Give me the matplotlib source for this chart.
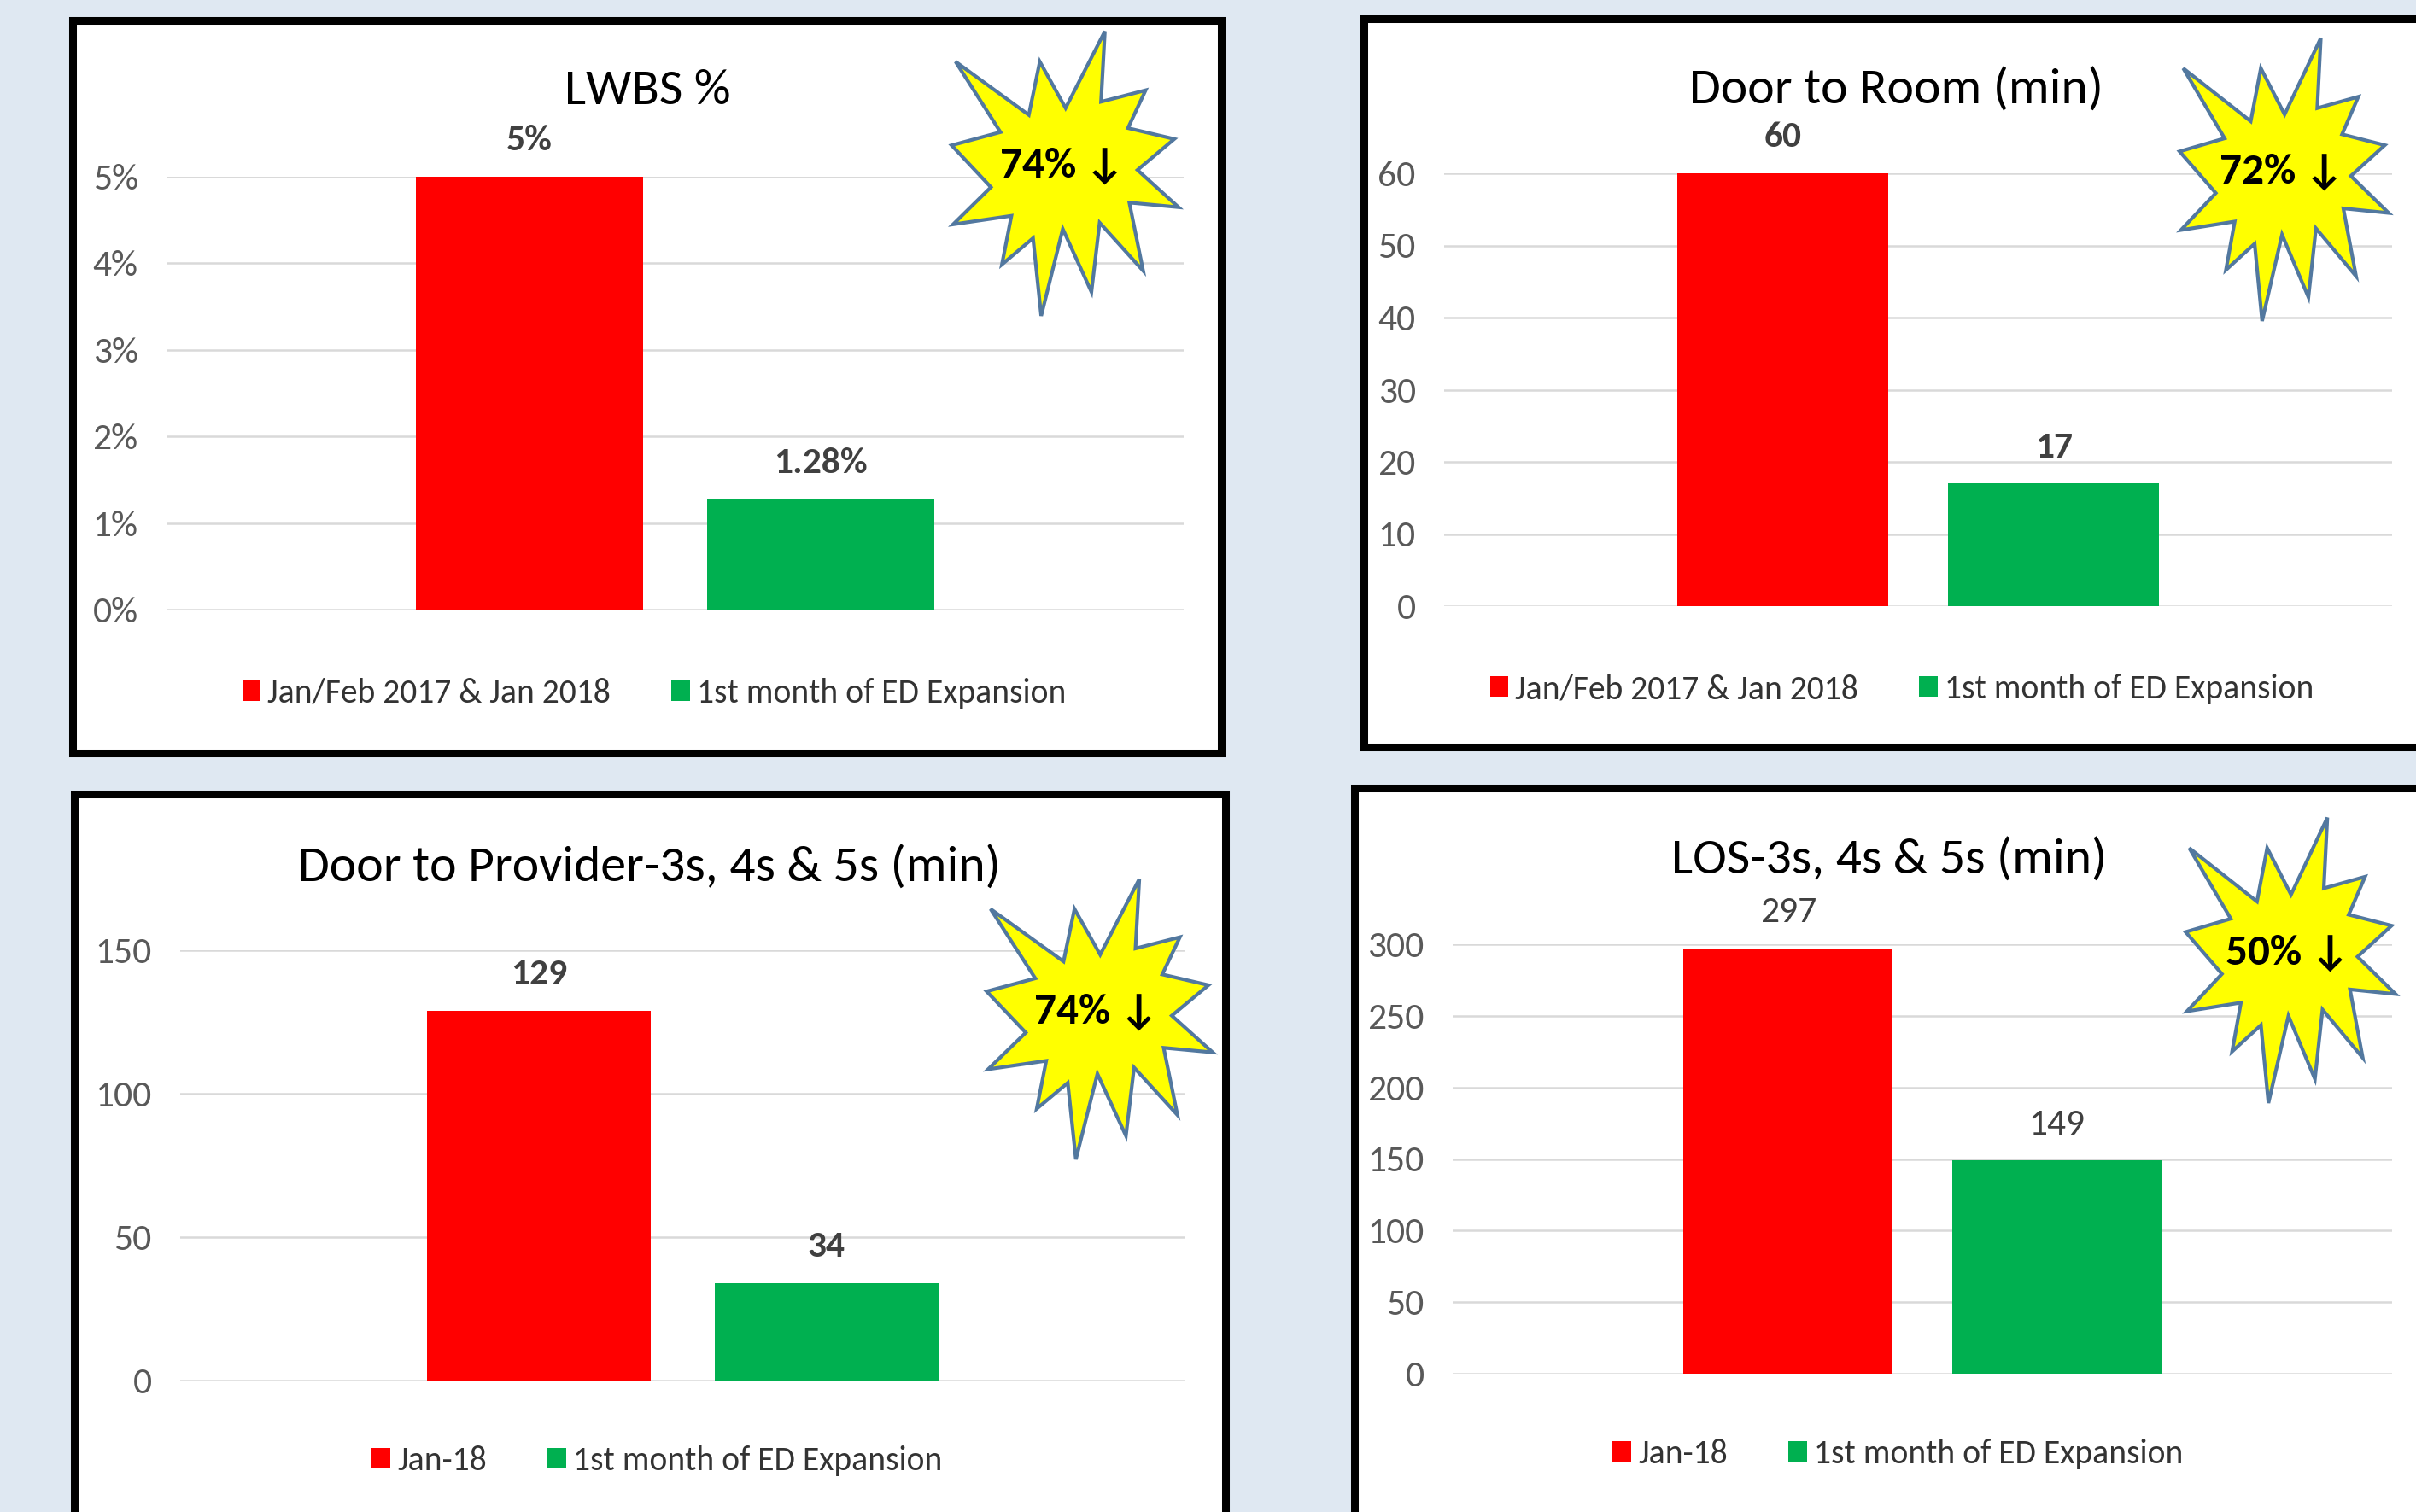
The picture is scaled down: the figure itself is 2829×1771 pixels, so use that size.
import matplotlib
matplotlib.use('Agg')
import matplotlib.pyplot as plt
from matplotlib import font_manager
from matplotlib.patches import Rectangle, Polygon
from matplotlib.ticker import MultipleLocator, FuncFormatter

# Chart data

titles = ['LWBS %', 'Door to Room (min)', 'Door to Provider-3s, 4s & 5s (min)', 'LOS-3s, 4s & 5s (min)']
before_names = ['Jan/Feb 2017 & Jan 2018', 'Jan/Feb 2017 & Jan 2018', 'Jan-18', 'Jan-18']
after_name = '1st month of ED Expansion'
before_vals = [0.05, 60, 129, 297]
after_vals = [0.0128, 17, 34, 149]
y_max = [0.05, 60, 150, 300]
y_step = [0.01, 10, 50, 50]
is_pct = [True, False, False, False]
label_bold = [True, True, True, False]

# Pick a narrow-ish font if one is installed

have = {f.name for f in font_manager.fontManager.ttflist}
cap_ratio = {'Carlito': 0.644, 'Liberation Sans Narrow': 0.716, 'Roboto Condensed': 0.711, 'Lato': 0.72}
base_font = 'Lato'
for cand in ['Carlito', 'Liberation Sans Narrow', 'Roboto Condensed', 'Lato']:
    if cand in have:
        base_font = cand
        break
k = 0.72 / cap_ratio[base_font]
plt.rcParams['font.family'] = [base_font, 'DejaVu Sans']

# Layout in pixels of the 2829x1771 picture (y from top)

W, H = 2829, 1771
panel_box = [(85, 24, 1430, 882), (1597, 22, 2850, 875), (87, 930, 1435, 1790), (1586, 923, 2850, 1790)]
plot_box = [(195, 207, 1386, 714), (1691, 203, 2801, 710), (211, 1113, 1388, 1617), (1701, 1106, 2801, 1609)]
title_xy = [(758, 106), (2220, 106), (760, 1017), (2212, 1008)]
legend_xy = [(766, 812), (2227, 807), (769, 1711), (2222, 1703)]
star_box = [(1113, 35, 267, 335), (2551, 43, 246, 333), (1154, 1028, 266, 330), (2558, 956, 247, 336)]

# Excel "Explosion 1" outline, 21600 units, y down
seal = [(10901, 5905), (8458, 2399), (7417, 6425), (476, 2399), (4732, 7722), (106, 8718),
        (3828, 11880), (243, 14689), (5772, 14041), (4868, 17719), (7819, 15730), (8590, 21600),
        (10637, 15038), (13349, 19791), (14125, 14561), (18248, 18195), (16938, 13044),
        (21600, 13393), (17710, 10579), (21198, 8242), (16806, 7417), (18482, 4560),
        (14257, 5429), (14623, 106)]


def fx(x):
    return x / W


def fy(y):
    return 1 - y / H


fig = plt.figure(figsize=(W / 100, H / 100), dpi=100, facecolor='#DFE8F2')

bar_w = 0.223
bar_off = 0.143

for i in range(4):
    x0, y0, x1, y1 = panel_box[i]
    fig.add_artist(Rectangle((fx(x0), fy(y1)), fx(x1) - fx(x0), fy(y0) - fy(y1),
                             transform=fig.transFigure, facecolor='white',
                             edgecolor='black', lw=6.5, zorder=-1))

    px0, py0, px1, py1 = plot_box[i]
    ax = fig.add_axes([fx(px0), fy(py1), fx(px1) - fx(px0), fy(py0) - fy(py1)])
    ax.set_facecolor('none')

    b1 = ax.bar(-bar_off, before_vals[i], bar_w, color='#FF0000', label=before_names[i])
    b2 = ax.bar(bar_off, after_vals[i], bar_w, color='#00B050', label=after_name)

    ax.set_xlim(-0.5, 0.5)
    ax.set_ylim(0, y_max[i])
    ax.yaxis.set_major_locator(MultipleLocator(y_step[i]))
    if is_pct[i]:
        fmt = lambda v, p=None: f'{v * 100:.0f}%'
        lab = lambda v: f'{v * 100:g}%'
    else:
        fmt = lambda v, p=None: f'{v:.0f}'
        lab = lambda v: f'{v:g}'
    ax.yaxis.set_major_formatter(FuncFormatter(fmt))
    ax.set_xticks([])
    ax.tick_params(axis='y', length=0, pad=24, labelsize=28 * k, labelcolor='#595959')
    ax.grid(axis='y', color='#D9D9D9', lw=1.8)
    ax.set_axisbelow(True)
    for s in ax.spines.values():
        s.set_visible(False)

    weight = 'bold' if label_bold[i] else 'normal'
    for cont, v in [(b1, before_vals[i]), (b2, after_vals[i])]:
        ax.bar_label(cont, labels=[lab(v)], padding=17, fontsize=28 * k,
                     fontweight=weight, color='#404040')

    fig.text(fx(title_xy[i][0]), fy(title_xy[i][1]), titles[i], ha='center', va='center',
             fontsize=38.5 * k, color='black')

    ax.legend(loc='center', bbox_to_anchor=(fx(legend_xy[i][0]), fy(legend_xy[i][1])),
              bbox_transform=fig.transFigure, ncol=2, frameon=False, fontsize=25.5 * k,
              handlelength=0.55, handleheight=0.55, handletextpad=0.2, columnspacing=1.8,
              labelcolor='#333333')

    # starburst with the percent drop
    sx, sy, sw, sh = star_box[i]
    pts = [(fx(sx + a / 21600 * sw), fy(sy + b / 21600 * sh)) for a, b in seal]
    fig.add_artist(Polygon(pts, closed=True, transform=fig.transFigure,
                           facecolor='#FFFF00', edgecolor='#52789F', lw=3, zorder=5))
    drop = round((1 - after_vals[i] / before_vals[i]) * 100)
    fig.text(fx(sx + 0.49 * sw), fy(sy + 0.475 * sh), f'{drop}%\u2009\u2193', ha='center', va='center',
             fontsize=33 * k, fontweight='bold', color='black', zorder=6)

fig.savefig('out.png', dpi=100, facecolor=fig.get_facecolor())
